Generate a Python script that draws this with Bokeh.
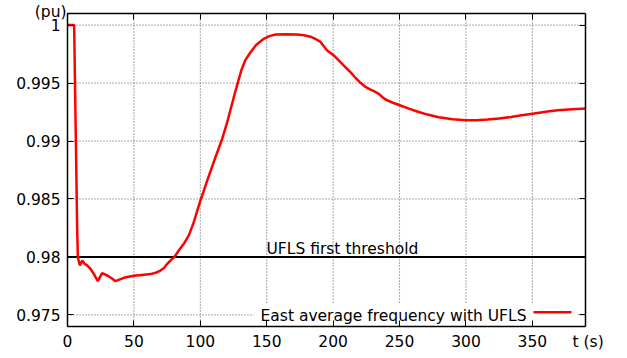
from bokeh.plotting import figure
from bokeh.models import (FixedTicker, LinearAxis, Label, Span, BoxAnnotation,
                          CustomJSTickFormatter, Range1d)
from bokeh.embed import file_html
from bokeh.resources import INLINE

# ---- data ----
t_s = [0, 5, 7.3, 7.8, 9.3, 11.1, 12.8, 15, 17.3, 20, 22.8, 26.1, 29.9, 33, 36.1,
       42.4, 49.9, 56, 62.5, 67, 70, 72.7, 75.1, 78, 80.5, 84, 87.6, 91.5, 95.1,
       100.1, 105.2, 111.4, 116.5, 120.2, 125.2, 130.8, 134, 137.8, 142, 147.8,
       152, 156.6, 165, 172.9, 178, 183, 186.5, 190.5, 195.5, 200.5, 205.5, 209,
       213, 216.5, 220.6, 224, 228.1, 231, 234.4, 237, 239.4, 245, 250.7, 257,
       263.3, 271, 279.5, 290, 299.9, 308, 316.3, 325, 333.8, 342, 350.2, 360,
       369, 380, 390]
f_pu = [1.0, 1.0, 0.98228, 0.97998, 0.97926, 0.97969, 0.97941, 0.97925, 0.97898,
        0.97850, 0.97791, 0.97860, 0.97840, 0.97818, 0.97791, 0.97820, 0.97837,
        0.97845, 0.97852, 0.97866, 0.97883, 0.97905, 0.97941, 0.97975, 0.98000,
        0.98060, 0.98113, 0.98190, 0.98300, 0.98487, 0.98659, 0.98860, 0.99020,
        0.99160, 0.99378, 0.99608, 0.99700, 0.99766, 0.99828, 0.99882, 0.99905,
        0.99919, 0.99922, 0.99919, 0.99912, 0.99900, 0.99882, 0.99855, 0.99781,
        0.99738, 0.99680, 0.99640, 0.99594, 0.99550, 0.99502, 0.99470, 0.99444,
        0.99428, 0.99407, 0.99380, 0.99358, 0.99330, 0.99306, 0.99280, 0.99255,
        0.99228, 0.99205, 0.99188, 0.99179, 0.99180, 0.99185, 0.99195, 0.99207,
        0.99222, 0.99236, 0.99252, 0.99265, 0.99274, 0.99280]

threshold = 0.98
x_min, x_max = 0, 390
y_min, y_max = 0.974, 1.001
x_ticks = [0, 50, 100, 150, 200, 250, 300, 350]
y_ticks = [0.975, 0.98, 0.985, 0.99, 0.995, 1.0]
y_tick_labels = ["0.975", "0.98", "0.985", "0.99", "0.995", "1"]
series_name = "East average frequency with UFLS"
threshold_name = "UFLS first threshold"
y_unit = "(pu)"
x_unit = "t (s)"

# ---- layout (pixel placement of the plot box inside the 627x358 page) ----
W, H = 627, 358
BL, BR, BT, BB = 67, 585, 13, 326
kx = (BR - BL) / (x_max - x_min)
ky = (BB - BT) / (y_max - y_min)

def dx(px):
    return x_min + (px - BL) / kx

def dy(py):
    return y_max - (py - BT) / ky

FONT = "DejaVu Sans"
FS = "15.5px"
BASE = 4.5  # baseline correction for Label

p = figure(width=W, height=H,
           x_range=Range1d(dx(0), dx(W)), y_range=Range1d(dy(H), dy(0)),
           x_axis_type=None, y_axis_type=None,
           output_backend="svg", toolbar_location=None, min_border=0,
           min_border_left=0, min_border_right=0, min_border_top=0, min_border_bottom=0)
p.background_fill_color = "white"
p.border_fill_color = "white"
p.outline_line_color = None
p.xgrid.visible = False
p.ygrid.visible = False

empty = CustomJSTickFormatter(code="return '';")

def style(ax):
    ax.major_tick_in = 6
    ax.major_tick_out = 0
    ax.minor_tick_line_color = None
    ax.axis_line_color = "black"
    ax.axis_line_width = 1.5
    ax.major_tick_line_color = "black"
    ax.major_tick_line_width = 1
    ax.major_label_text_font = FONT
    ax.major_label_text_font_size = FS
    ax.major_label_text_color = "black"

xb = LinearAxis(ticker=FixedTicker(ticks=x_ticks), fixed_location=y_min,
                bounds=(x_min, x_max), major_label_standoff=8)
xt = LinearAxis(ticker=FixedTicker(ticks=x_ticks), fixed_location=y_max,
                bounds=(x_min, x_max), formatter=empty)
yl = LinearAxis(ticker=FixedTicker(ticks=y_ticks), fixed_location=x_min,
                bounds=(y_min, y_max), major_label_standoff=7,
                major_label_overrides={v: s for v, s in zip(y_ticks, y_tick_labels)})
yr = LinearAxis(ticker=FixedTicker(ticks=y_ticks), fixed_location=x_max,
                bounds=(y_min, y_max), formatter=empty)
for ax in (xb, xt, yl, yr):
    style(ax)
xt.major_label_text_font_size = "1px"
yr.major_label_text_font_size = "1px"
p.add_layout(xb, "below")
p.add_layout(xt, "above")
p.add_layout(yl, "left")
p.add_layout(yr, "right")

# dotted grid inside the box
p.segment(x0=x_ticks, y0=[y_min] * len(x_ticks), x1=x_ticks, y1=[y_max] * len(x_ticks),
          line_color="#555555", line_dash="1 2", line_width=1, level="image")
p.segment(x0=[x_min] * len(y_ticks), y0=y_ticks, x1=[x_max] * len(y_ticks), y1=y_ticks,
          line_color="#555555", line_dash="1 2", line_width=1, level="image")

# white key area (hides grid behind the key)
p.add_layout(BoxAnnotation(left=dx(253), right=dx(577), top=dy(302.5), bottom=y_min,
                           fill_color="white", fill_alpha=1.0, line_alpha=0,
                           level="underlay"))

p.line(x=[x_min, x_max], y=[threshold, threshold], line_color="black", line_width=2)

p.line(t_s, f_pu, line_color="#ff0000", line_width=2.5)

p.add_layout(Label(x=dx(266), y=dy(253 - BASE), text=threshold_name, text_font=FONT,
                   text_font_size=FS, text_color="black",
                   text_baseline="alphabetic", text_align="left"))
p.add_layout(Label(x=dx(66), y=dy(16 - BASE), text=y_unit, text_font=FONT,
                   text_font_size=FS, text_color="black",
                   text_baseline="alphabetic", text_align="right"))
p.add_layout(Label(x=dx(572), y=dy(346 - BASE), text=x_unit, text_font=FONT,
                   text_font_size=FS, text_color="black",
                   text_baseline="alphabetic", text_align="left"))
# key: text then sample line (gnuplot style)
p.add_layout(Label(x=dx(526), y=dy(320 - BASE), text=series_name, text_font=FONT,
                   text_font_size=FS, text_color="black",
                   text_baseline="alphabetic", text_align="right"))
p.segment(x0=[dx(533)], y0=[dy(311.7)], x1=[dx(571)], y1=[dy(311.7)],
          line_color="#ff0000", line_width=2.5, level="overlay")

open("out.html", "w").write(file_html(p, INLINE))
